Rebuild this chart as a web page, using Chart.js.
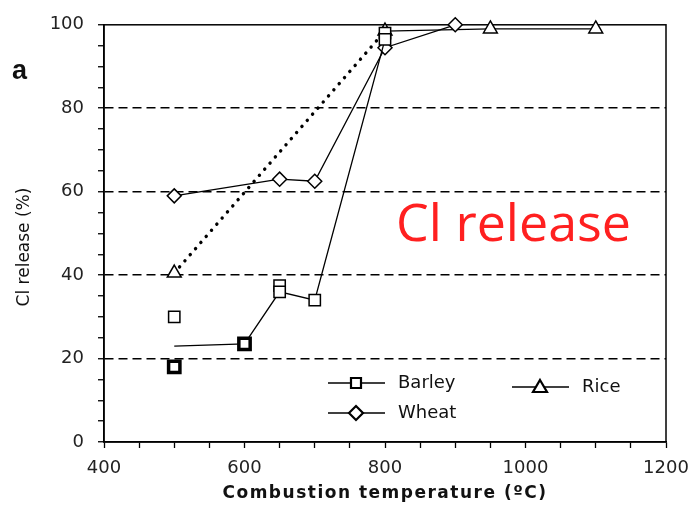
<!DOCTYPE html>
<html>
<head>
<meta charset="utf-8">
<script src="https://cdn.jsdelivr.net/npm/chart.js@4.4.0/dist/chart.umd.min.js"></script>
<style>
  body { margin: 0; background: #fff; }
  #wrap { width: 700px; height: 511px; }
</style>
</head>
<body>
<div id="wrap"><canvas id="myChart" width="700" height="511"></canvas></div>

<script>
    // Data (temperature in °C, Cl release in %)
    var barleyTemp = [500, 600, 650, 700, 800];
    var barleyRelease = [23, 23.5, 36, 34, 96.5];
    var barleyExtraTemp = [500, 500, 650, 800];
    var barleyExtraRelease = [30, 18, 37.5, 98];

    var wheatTemp = [500, 650, 700, 800, 900];
    var wheatRelease = [59, 63, 62.5, 94.5, 100];

    var riceTemp = [500, 800, 950, 1100];
    var riceRelease = [40.5, 98.5, 99, 99];

    var xTicks = [400, 600, 800, 1000, 1200];
    var yTicks = [0, 20, 40, 60, 80, 100];

    function pts(xs, ys) {
        return xs.map(function (x, i) { return { x: x, y: ys[i] }; });
    }

    var ctx = document.getElementById('myChart').getContext('2d');

    // cadre, titres, lettre "a", texte rouge et légende
    var decorPlugin = {
        id: 'decor',
        beforeDatasetsDraw: function (chart) {
            var c = chart.ctx, a = chart.chartArea;
            c.save();
            c.strokeStyle = '#000';
            c.lineWidth = 1.5;
            c.strokeRect(a.left, a.top, a.right - a.left, a.bottom - a.top);
            c.restore();
        },
        afterDraw: function (chart) {
            var c = chart.ctx, a = chart.chartArea;
            c.save();
            c.fillStyle = '#111';
            c.font = 'bold 17px "DejaVu Sans"';
            c.textAlign = 'center';
            c.textBaseline = 'middle';
            c.letterSpacing = '1.5px';
            c.fillText('Combustion temperature (ºC)', (a.left + a.right) / 2, 494);
            c.letterSpacing = '0px';

            // titre de l'axe Y
            c.save();
            c.translate(25, 247);
            c.rotate(-Math.PI / 2);
            c.font = '17px "DejaVu Sans"';
            c.fillText('Cl release (%)', 0, 0);
            c.restore();

            c.font = 'bold 27px "Liberation Sans"';
            c.textAlign = 'left';
            c.fillText('a', 12, 72);

            c.fillStyle = '#ff2020';
            c.font = '52px "Open Sans"';
            c.fillText('Cl release', 396, 226);

            // légende
            c.fillStyle = '#111';
            c.strokeStyle = '#000';
            c.font = '18px "DejaVu Sans"';
            var items = [
                { x: 328, y: 383, label: 'Barley', shape: 'rect' },
                { x: 328, y: 413, label: 'Wheat', shape: 'diamond' },
                { x: 512, y: 387, label: 'Rice', shape: 'triangle' }
            ];
            items.forEach(function (it) {
                c.lineWidth = 1.3;
                c.beginPath();
                c.moveTo(it.x, it.y);
                c.lineTo(it.x + 57, it.y);
                c.stroke();
                var mx = it.x + 28, my = it.y;
                c.beginPath();
                if (it.shape === 'rect') {
                    c.rect(mx - 5, my - 5, 10, 10);
                } else if (it.shape === 'diamond') {
                    c.moveTo(mx, my - 7); c.lineTo(mx + 7, my); c.lineTo(mx, my + 7); c.lineTo(mx - 7, my); c.closePath();
                } else {
                    c.moveTo(mx, my - 7); c.lineTo(mx + 7, my + 5); c.lineTo(mx - 7, my + 5); c.closePath();
                }
                c.fillStyle = '#fff';
                c.fill();
                c.lineWidth = 2.2;
                c.stroke();
                c.fillStyle = '#111';
                c.fillText(it.label, it.x + 70, it.y);
            });
            c.restore();
        }
    };

    var common = {
        borderColor: '#000',
        pointBorderColor: '#000',
        pointBackgroundColor: '#fff',
        borderWidth: 1.3,
        pointBorderWidth: 1.5,
        clip: false
    };

    var myChart = new Chart(ctx, {
        type: 'scatter',
        data: {
            datasets: [
                Object.assign({}, common, {
                    label: 'Barley',
                    data: pts(barleyTemp, barleyRelease),
                    showLine: true,
                    pointStyle: 'rect',
                    pointRadius: [0, 8, 8, 8, 8],
                    pointBorderWidth: [1, 3.5, 1.5, 1.5, 1.5]
                }),
                Object.assign({}, common, {
                    label: 'Barley (repeats)',
                    data: pts(barleyExtraTemp, barleyExtraRelease),
                    showLine: false,
                    pointStyle: 'rect',
                    pointRadius: 8,
                    pointBorderWidth: [1.5, 3.5, 1.5, 1.5]
                }),
                Object.assign({}, common, {
                    label: 'Wheat',
                    data: pts(wheatTemp, wheatRelease),
                    showLine: true,
                    pointStyle: 'rectRot',
                    pointRadius: 7
                }),
                Object.assign({}, common, {
                    label: 'Rice',
                    data: pts(riceTemp, riceRelease),
                    showLine: true,
                    pointStyle: 'triangle',
                    pointRadius: 8,
                    segment: {
                        borderDash: function (s) { return s.p0DataIndex === 0 ? [0.1, 8] : undefined; },
                        borderWidth: function (s) { return s.p0DataIndex === 0 ? 3.4 : undefined; },
                        borderCapStyle: function (s) { return s.p0DataIndex === 0 ? 'round' : undefined; }
                    }
                })
            ]
        },
        options: {
            responsive: false,
            animation: false,
            layout: { padding: { top: 15, right: 34, bottom: 0, left: 0 } },
            plugins: {
                legend: { display: false },
                tooltip: { enabled: false }
            },
            scales: {
                x: {
                    type: 'linear',
                    min: 400,
                    max: 1200,
                    afterFit: function (s) { s.height = 69; },
                    afterBuildTicks: function (s) {
                        var t = [];
                        for (var v = 400; v <= 1200; v += 50) t.push({ value: v });
                        s.ticks = t;
                    },
                    ticks: {
                        autoSkip: false,
                        maxRotation: 0,
                        padding: 10,
                        color: '#222',
                        font: { family: 'DejaVu Sans', size: 18 },
                        callback: function (v) { return xTicks.indexOf(v) >= 0 ? String(v) : ''; }
                    },
                    grid: { drawOnChartArea: false, tickLength: 6, tickColor: '#000', tickWidth: 1.3 },
                    border: { color: '#000', width: 1.5 }
                },
                y: {
                    min: 0,
                    max: 100,
                    afterFit: function (s) { s.width = 104; },
                    afterBuildTicks: function (s) {
                        var t = [];
                        for (var v = 0; v <= 100; v += 5) t.push({ value: v });
                        s.ticks = t;
                    },
                    ticks: {
                        autoSkip: false,
                        padding: 14,
                        color: '#222',
                        font: { family: 'DejaVu Sans', size: 18 },
                        callback: function (v) { return yTicks.indexOf(v) >= 0 ? String(v) : ''; }
                    },
                    grid: {
                        color: function (c) {
                            var v = c.tick ? c.tick.value : -1;
                            return (v > 0 && v < 100 && v % 20 === 0) ? '#000' : 'rgba(0,0,0,0)';
                        },
                        lineWidth: 1.5,
                        tickLength: 6,
                        tickColor: '#000',
                        tickWidth: 1.3
                    },
                    border: { color: '#000', width: 1.5, dash: [9, 5] }
                }
            }
        },
        plugins: [decorPlugin]
    });
</script>
</body>
</html>
